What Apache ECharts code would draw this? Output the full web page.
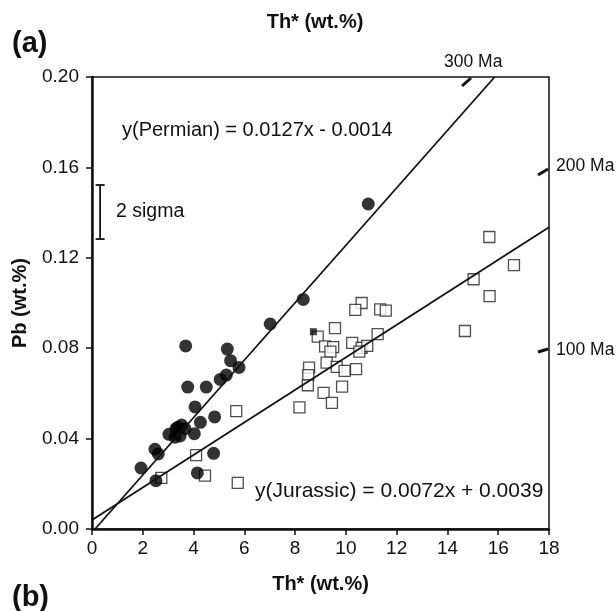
<!DOCTYPE html>
<html>
<head>
<meta charset="utf-8">
<script src="https://cdn.jsdelivr.net/npm/echarts@6/dist/echarts.min.js"></script>
<style>
  html, body { margin: 0; padding: 0; background: #fff; }
  #chart { width: 616px; height: 611px; }
</style>
</head>
<body>
<div id="chart"></div>
<script>
// Permian monazite (filled circles), [Th*, Pb]
var permianPts = [
  [3.69, 0.0810], [5.33, 0.0796], [5.46, 0.0745], [5.79, 0.0715], [5.29, 0.0681],
  [5.05, 0.0662], [3.77, 0.0628], [4.50, 0.0628], [4.06, 0.0540], [4.83, 0.0496],
  [4.27, 0.0472], [3.53, 0.0460], [3.31, 0.0444], [3.03, 0.0419], [3.27, 0.0406],
  [3.47, 0.0412], [3.38, 0.0450], [3.66, 0.0444], [4.03, 0.0422], [2.48, 0.0353],
  [2.61, 0.0332], [4.79, 0.0335], [1.93, 0.0270], [4.15, 0.0248], [2.52, 0.0214],
  [8.32, 0.1016], [7.02, 0.0907], [10.88, 0.1438]
];
// Jurassic monazite (open squares)
var jurassicPts = [
  [5.68, 0.0522], [4.10, 0.0327], [4.45, 0.0236], [5.74, 0.0204], [2.73, 0.0226],
  [8.89, 0.0851], [9.57, 0.0889], [10.62, 0.1000], [10.37, 0.0970], [11.35, 0.0972],
  [11.57, 0.0966], [9.18, 0.0808], [9.50, 0.0805], [9.39, 0.0785], [10.25, 0.0824],
  [10.62, 0.0802], [10.84, 0.0810], [10.53, 0.0785], [11.25, 0.0862], [9.24, 0.0736],
  [9.64, 0.0717], [9.95, 0.0700], [10.40, 0.0707], [8.55, 0.0714], [8.52, 0.0681],
  [8.50, 0.0636], [9.85, 0.0630], [9.12, 0.0602], [9.45, 0.0558], [8.17, 0.0538],
  [15.65, 0.1292], [16.62, 0.1168], [15.03, 0.1105], [15.66, 0.1030], [14.69, 0.0876]
];
// single small filled square
var otherPts = [[8.72, 0.0873]];
// regression lines, end points
var permianLine = [[0.12, 0.0], [15.86, 0.2]];
var jurassicLine = [[0.0, 0.0040], [18.0, 0.1335]];
// 2 sigma bar: [x, low, high]
var sigmaBar = [[0.32, 0.1283, 0.1522]];

var xTicks = [0, 2, 4, 6, 8, 10, 12, 14, 16, 18];
var yTicks = [0.00, 0.04, 0.08, 0.12, 0.16, 0.20];

var chart = echarts.init(document.getElementById('chart'));
var font = 'Liberation Sans, Arial, sans-serif';

chart.setOption({
  backgroundColor: '#fff',
  animation: false,
  textStyle: { fontFamily: font, color: '#111' },
  title: {
    text: 'Th* (wt.%)',
    left: 310, top: 7, textAlign: 'center',
    textStyle: { fontSize: 20, fontWeight: 'bold', color: '#111', fontFamily: font }
  },
  grid: {
    left: 92, right: 67, top: 77, bottom: 82,
    containLabel: false, outerBoundsMode: 'none',
    show: true, borderColor: '#111', borderWidth: 1.5, backgroundColor: 'transparent'
  },
  xAxis: {
    type: 'value', min: 0, max: 18, interval: 2,
    name: 'Th* (wt.%)', nameLocation: 'middle', nameGap: 45,
    nameTextStyle: { fontSize: 20, fontWeight: 'bold', color: '#111' },
    axisLine: { onZero: false, lineStyle: { color: '#111', width: 2.5 } },
    axisTick: { show: true, inside: false, length: 6, lineStyle: { color: '#111', width: 1.5 } },
    axisLabel: { fontSize: 19, color: '#111', margin: 10,
      formatter: function (v) { return xTicks.indexOf(v) >= 0 ? String(v) : ''; } },
    splitLine: { show: false }
  },
  yAxis: {
    type: 'value', min: 0, max: 0.2, interval: 0.04,
    name: 'Pb (wt.%)', nameLocation: 'middle', nameGap: 62, nameRotate: 90,
    nameTextStyle: { fontSize: 20, fontWeight: 'bold', color: '#111' },
    axisLine: { onZero: false, lineStyle: { color: '#111', width: 2.5 } },
    axisTick: { show: true, inside: false, length: 6, lineStyle: { color: '#111', width: 1.5 } },
    axisLabel: { fontSize: 19, color: '#111', margin: 13,
      formatter: function (v) { return v.toFixed(2); } },
    splitLine: { show: false }
  },
  graphic: [
    { type: 'text', left: 12, top: 29, style: { text: '(a)', font: 'bold 29px ' + font, fill: '#111' } },
    { type: 'text', left: 12, top: 583, style: { text: '(b)', font: 'bold 29px ' + font, fill: '#111' } },
    { type: 'text', left: 122, top: 120, style: { text: 'y(Permian) = 0.0127x - 0.0014', font: '20px ' + font, fill: '#111' } },
    { type: 'text', left: 255, top: 481, style: { text: 'y(Jurassic) = 0.0072x + 0.0039', font: '21px ' + font, fill: '#111' } },
    { type: 'text', left: 116, top: 202, style: { text: '2 sigma', font: '19.5px ' + font, fill: '#111' } },
    // age marks
    { type: 'line', shape: { x1: 462, y1: 86, x2: 471, y2: 78 }, style: { stroke: '#111', lineWidth: 3 } },
    { type: 'text', left: 444, top: 53, style: { text: '300 Ma', font: '17.5px ' + font, fill: '#111' } },
    { type: 'line', shape: { x1: 538, y1: 175, x2: 548, y2: 169 }, style: { stroke: '#111', lineWidth: 3 } },
    { type: 'text', left: 556, top: 157, style: { text: '200 Ma', font: '17.5px ' + font, fill: '#111' } },
    { type: 'line', shape: { x1: 538, y1: 352, x2: 548, y2: 349 }, style: { stroke: '#111', lineWidth: 3 } },
    { type: 'text', left: 556, top: 341, style: { text: '100 Ma', font: '17.5px ' + font, fill: '#111' } }
  ],
  series: [
    {
      name: 'Jurassic', type: 'scatter', data: jurassicPts,
      symbol: 'rect', symbolSize: 11, z: 2,
      itemStyle: { color: '#fff', borderColor: '#222', borderWidth: 1.3 }
    },
    {
      name: 'Permian', type: 'scatter', data: permianPts,
      symbol: 'circle', symbolSize: 13, z: 3,
      itemStyle: { color: '#000' }
    },
    {
      name: 'other', type: 'scatter', data: otherPts,
      symbol: 'rect', symbolSize: 7, z: 3,
      itemStyle: { color: '#111' }
    },
    {
      name: 'Permian fit', type: 'line', data: permianLine, symbol: 'none', z: 4,
      lineStyle: { color: '#111', width: 1.8 }
    },
    {
      name: 'Jurassic fit', type: 'line', data: jurassicLine, symbol: 'none', z: 4,
      lineStyle: { color: '#111', width: 1.8 }
    },
    {
      name: '2 sigma', type: 'custom', data: sigmaBar, z: 5,
      renderItem: function (params, api) {
        var top = api.coord([api.value(0), api.value(2)]);
        var bot = api.coord([api.value(0), api.value(1)]);
        var w = 4.5;
        var st = { stroke: '#111', lineWidth: 1.8 };
        return {
          type: 'group',
          children: [
            { type: 'line', shape: { x1: top[0], y1: top[1], x2: bot[0], y2: bot[1] }, style: st },
            { type: 'line', shape: { x1: top[0] - w, y1: top[1], x2: top[0] + w, y2: top[1] }, style: st },
            { type: 'line', shape: { x1: bot[0] - w, y1: bot[1], x2: bot[0] + w, y2: bot[1] }, style: st }
          ]
        };
      }
    }
  ]
});
</script>
</body>
</html>
